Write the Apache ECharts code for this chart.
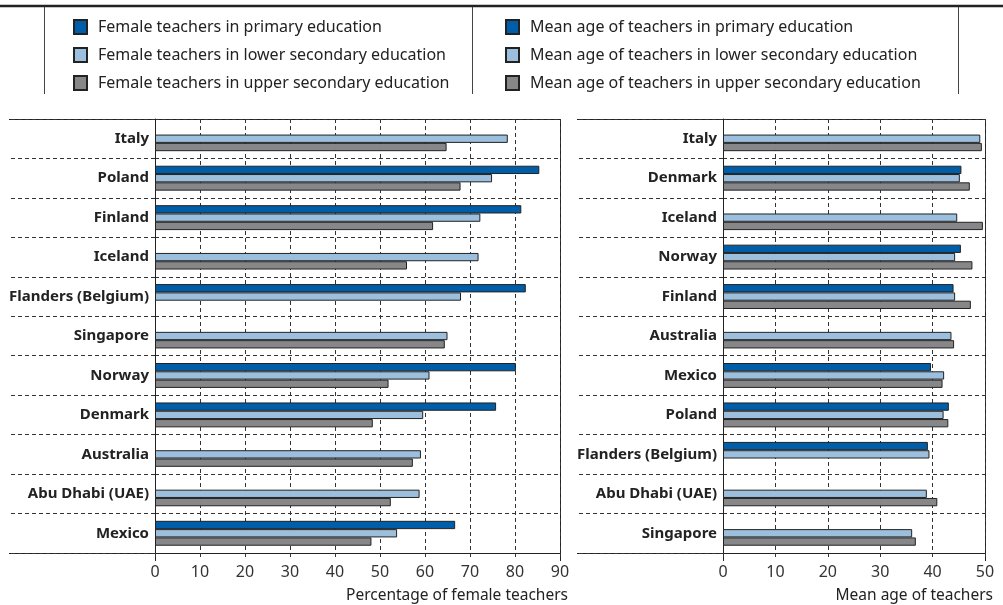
<!DOCTYPE html>
<html>
<head>
<meta charset="utf-8">
<script src="https://cdn.jsdelivr.net/npm/echarts@6/dist/echarts.min.js"></script>
<style>
html,body{margin:0;padding:0;background:#fff;}
#chart{width:1003px;height:605px;}
</style>
</head>
<body>
<div id="chart"></div>
<script>
// ---- Data ----
var leftCategories = ['Italy','Poland','Finland','Iceland','Flanders (Belgium)','Singapore','Norway','Denmark','Australia','Abu Dhabi (UAE)','Mexico'];
var femalePrimary = [null,85.4,81.4,null,82.4,null,80.2,75.8,null,null,66.7];
var femaleLower   = [78.4,74.9,72.3,71.9,68.0,65.0,61.0,59.6,59.1,58.8,53.8];
var femaleUpper   = [64.8,67.9,61.8,56.0,null,64.4,51.9,48.4,57.3,52.4,48.1];

var rightCategories = ['Italy','Denmark','Iceland','Norway','Finland','Australia','Mexico','Poland','Flanders (Belgium)','Abu Dhabi (UAE)','Singapore'];
var agePrimary = [null,45.5,null,45.4,44.0,null,39.7,43.1,39.1,null,null];
var ageLower   = [49.1,45.2,44.7,44.3,44.3,43.6,42.2,42.1,39.4,38.9,36.1];
var ageUpper   = [49.4,47.1,49.6,47.6,47.3,44.1,41.9,43.0,null,40.9,36.8];

var leftNames = ['Female teachers in primary education','Female teachers in lower secondary education','Female teachers in upper secondary education'];
var rightNames = ['Mean age of teachers in primary education','Mean age of teachers in lower secondary education','Mean age of teachers in upper secondary education'];
var leftAxisName = 'Percentage of female teachers';
var rightAxisName = 'Mean age of teachers';
var leftMax = 90, rightMax = 50, tickStep = 10;

// ---- Styles ----
var colors = ['#005EA8','#9BBFDD','#87878A'];
var FONT = '"Noto Sans", sans-serif';
var lineColor = '#222';
var dash = [4,3];

var G = {
  top: 119, height: 434,
  l: {left: 155, width: 405},
  r: {left: 723, width: 262}
};

var chart = echarts.init(document.getElementById('chart'));

function xAxisDef(gi, max, name) {
  return {
    type: 'value', gridIndex: gi, min: 0, max: max, interval: tickStep,
    axisLine: {show: true, lineStyle: {color: lineColor, width: 1}},
    axisTick: {show: true, length: 7, lineStyle: {color: '#333', type: dash}},
    axisLabel: {fontFamily: FONT, fontSize: 16, color: '#333', margin: 11},
    splitLine: {show: true, lineStyle: {color: '#333', type: dash, width: 1}},
    name: name, nameLocation: 'end', nameGap: 8,
    nameTextStyle: {fontFamily: FONT, fontSize: 15.5, color: '#222', align: 'right', verticalAlign: 'top', padding: [35,0,0,0]}
  };
}
function yAxisDef(gi, cats) {
  return {
    type: 'category', gridIndex: gi, data: cats, inverse: true,
    axisLine: {show: true, lineStyle: {color: lineColor, width: 1}},
    axisTick: {show: true, length: 146, lineStyle: {color: '#333', type: dash}},
    axisLabel: {fontFamily: FONT, fontSize: 15, fontWeight: 'bold', color: '#222', margin: 6},
    splitLine: {show: true, lineStyle: {color: '#333', type: dash, width: 1}}
  };
}
function barSeries(name, data, ci, gi) {
  return {
    type: 'bar', name: name, data: data, xAxisIndex: gi, yAxisIndex: gi,
    barWidth: 8.3, barGap: '0%',
    itemStyle: {color: colors[ci], borderColor: '#222', borderWidth: 1},
    emphasis: {disabled: true}, animation: false
  };
}
function legendDef(left, names) {
  return {
    left: left, top: 14, orient: 'vertical', data: names, icon: 'rect',
    itemWidth: 13, itemHeight: 14, itemGap: 12, selectedMode: false,
    textStyle: {fontFamily: FONT, fontSize: 16, color: '#222', padding: [0,0,0,6]}
  };
}
function hline(x1, x2, y, w) {
  return {type: 'line', shape: {x1: x1, y1: y, x2: x2, y2: y}, style: {stroke: lineColor, lineWidth: w || 1}, silent: true};
}
function vline(x, y1, y2, w, c) {
  return {type: 'line', shape: {x1: x, y1: y1, x2: x, y2: y2}, style: {stroke: c || lineColor, lineWidth: w || 1}, silent: true};
}
var bottomY = G.top + G.height;
var lRight = G.l.left + G.l.width, rRight = G.r.left + G.r.width;

chart.setOption({
  animation: false,
  backgroundColor: '#fff',
  grid: [
    {left: G.l.left, top: G.top, width: G.l.width, height: G.height},
    {left: G.r.left, top: G.top, width: G.r.width, height: G.height}
  ],
  xAxis: [xAxisDef(0, leftMax, leftAxisName), xAxisDef(1, rightMax, rightAxisName)],
  yAxis: [yAxisDef(0, leftCategories), yAxisDef(1, rightCategories)],
  legend: [legendDef(68, leftNames), legendDef(500, rightNames)],
  series: [
    barSeries(leftNames[0], femalePrimary, 0, 0),
    barSeries(leftNames[1], femaleLower, 1, 0),
    barSeries(leftNames[2], femaleUpper, 2, 0),
    barSeries(rightNames[0], agePrimary, 0, 1),
    barSeries(rightNames[1], ageLower, 1, 1),
    barSeries(rightNames[2], ageUpper, 2, 1)
  ],
  graphic: [
    hline(0, 1003, 6, 2.5),
    vline(44.5, 7, 94, 1, '#444'),
    vline(472.5, 7, 94, 1, '#444'),
    vline(958.5, 7, 94, 1, '#444'),
    hline(9, lRight + 0.5, G.top + 0.5),
    hline(9, lRight + 0.5, bottomY + 0.5),
    vline(lRight + 0.5, G.top, bottomY + 8),
    vline(G.l.left + 0.5, bottomY, bottomY + 8),
    hline(577, rRight + 0.5, G.top + 0.5),
    hline(577, rRight + 0.5, bottomY + 0.5),
    vline(rRight + 0.5, G.top, bottomY + 8),
    vline(G.r.left + 0.5, bottomY, bottomY + 8)
  ]
});
</script>
</body>
</html>
